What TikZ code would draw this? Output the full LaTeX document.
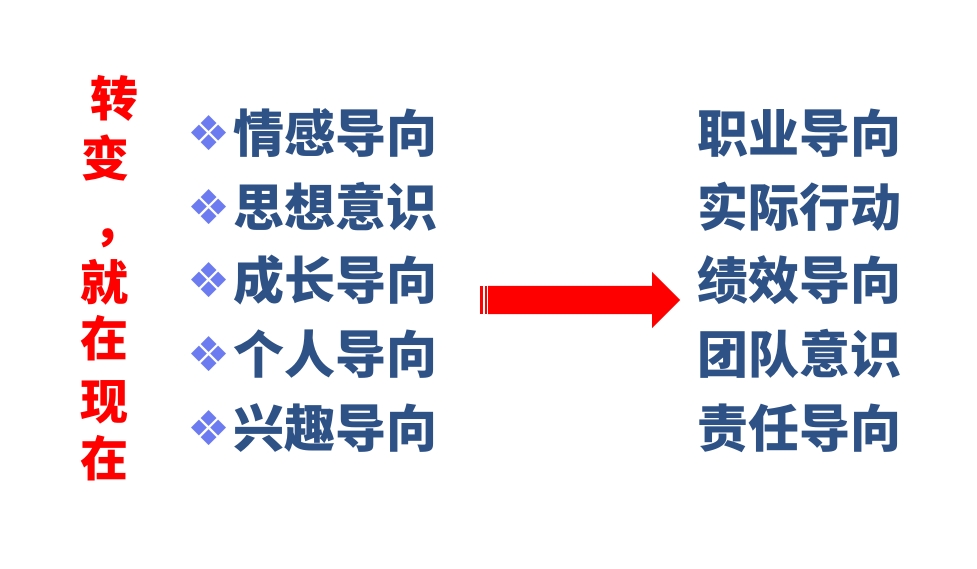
\documentclass[tikz,border=0pt]{standalone}
\usepackage{fontspec}
\usepackage{tikz}
\usetikzlibrary{positioning}
\newfontfamily\cjk{Noto Sans CJK SC}
\newfontfamily\symfont{DejaVu Sans}
\definecolor{itemblue}{HTML}{2E5286}
\definecolor{markblue}{HTML}{6C7CF0}
\definecolor{shiftred}{HTML}{FF0000}

\begin{document}
\begin{tikzpicture}[x=1pt, y=-1pt,
    item/.style={anchor=west, inner sep=0pt, text=itemblue, font=\cjk\bfseries\fontsize{51}{51}\selectfont},
    bullet/.style={inner sep=0pt, text=markblue, font=\symfont\fontsize{48}{48}\selectfont},
    slogan/.style={inner sep=0pt, text=shiftred, font=\cjk\bfseries\fontsize{48}{48}\selectfont}
  ]
  \useasboundingbox (0,0) rectangle (977,569);

  % Slogan, written top to bottom
  \foreach \ch/\xx/\yy [count=\i] in {转/114/98, 变/105/158, ，/117/238, 就/104/282, 在/104/338, 现/104/402, 在/104/458}
    \node[slogan] (s\i) at (\xx,\yy) {\ch};

  % Before
  \foreach \txt/\yy [count=\i] in {情感导向/133, 思想意识/207, 成长导向/280, 个人导向/354, 兴趣导向/428} {
    \node[bullet] (b\i) at (209,\yy) {❖};
    \node[item] (l\i) at (233,\yy) {\txt};
  }

  % After
  \foreach \txt/\yy [count=\i] in {职业导向/133, 实际行动/207, 绩效导向/280, 团队意识/354, 责任导向/428}
    \node[item] (r\i) at (697,\yy) {\txt};

  % Block arrow
  \fill[shiftred] (480,286) rectangle (483,314);
  \fill[shiftred] (484.5,286) rectangle (486.5,314);
  \fill[shiftred] (488,286) -- (652,286) -- (652,272) -- (680,300)
    -- (652,328) -- (652,314) -- (488,314) -- cycle;
\end{tikzpicture}
\end{document}
